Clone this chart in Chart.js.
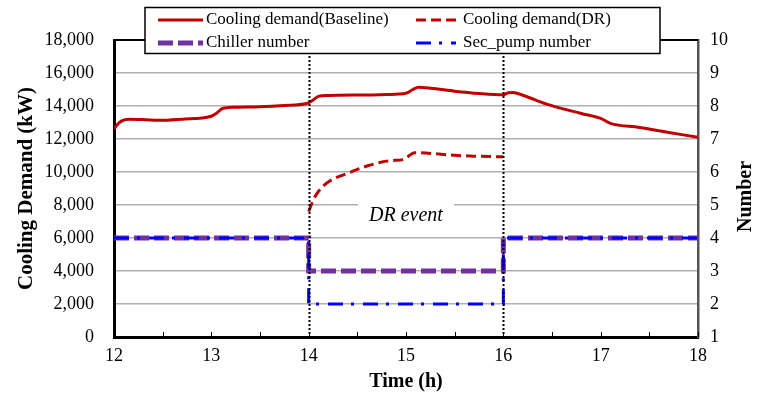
<!DOCTYPE html>
<html>
<head>
<meta charset="utf-8">
<script src="https://cdn.jsdelivr.net/npm/chart.js@4"></script>
<style>
  html, body { margin: 0; padding: 0; background: #fff; }
  #wrap { width: 758px; height: 394px; position: relative; }
</style>
</head>
<body>
<div id="wrap"><canvas id="chart"></canvas></div>
<script>
// baseline cooling demand (kW) against time (h)
const baseTime = [12.0, 12.03, 12.08, 12.16, 12.3, 12.47, 12.7, 13.0, 13.05, 13.12, 13.25, 13.5, 13.75, 13.98,
  14.03, 14.1, 14.2, 14.6, 14.8, 15.0, 15.07, 15.13, 15.25, 15.5, 15.75, 16.0, 16.05, 16.1, 16.2, 16.48,
  16.8, 17.0, 17.1, 17.4, 17.7, 18.0];
const baseLoad = [12600, 12850, 13100, 13200, 13180, 13130, 13200, 13380, 13550, 13860, 13930, 13960, 14030, 14150,
  14300, 14580, 14640, 14670, 14700, 14770, 15000, 15130, 15080, 14900, 14760, 14680, 14800, 14820, 14650, 14050,
  13550, 13250, 12950, 12700, 12400, 12100];

// cooling demand with demand response
const drTime = [14.0, 14.04, 14.08, 14.15, 14.22, 14.39, 14.6, 14.84, 14.97, 15.09, 15.2, 15.45, 15.7, 16.0];
const drLoad = [7600, 8200, 8650, 9150, 9470, 9900, 10360, 10690, 10750, 11170, 11150, 11030, 10960, 10920];

// equipment counts (right axis)
const stepTime = [12, 14, 16, 18];
const chillers = [4, 3, 4, 4];
const pumps = [4, 2, 4, 4];

const eventBounds = [14, 16];
const eventText = "DR event";

const xTicks = [12, 13, 14, 15, 16, 17, 18];

const serif = "'Liberation Serif', 'Times New Roman', serif";
Chart.defaults.font.family = serif;
Chart.defaults.color = "#000";

const pts = (xs, ys) => xs.map((x, i) => ({ x, y: ys[i] }));

const datasets = [
  {
    label: "Cooling demand(Baseline)",
    data: pts(baseTime, baseLoad),
    borderColor: "#c00000",
    borderWidth: 3,
    pointRadius: 0,
    cubicInterpolationMode: "monotone",
    yAxisID: "y",
    order: 2,
  },
  {
    label: "Cooling demand(DR)",
    data: pts(drTime, drLoad),
    borderColor: "#c00000",
    borderWidth: 3,
    borderDash: [10, 5],
    pointRadius: 0,
    cubicInterpolationMode: "monotone",
    yAxisID: "y",
    order: 2,
  },
  {
    label: "Chiller number",
    data: pts(stepTime, chillers),
    borderColor: "#7030a0",
    borderWidth: 5,
    borderDash: [15, 5],
    pointRadius: 0,
    stepped: "before",
    yAxisID: "y1",
    order: 4,
  },
  {
    label: "Sec_pump number",
    data: pts(stepTime, pumps),
    borderColor: "#0000ff",
    borderWidth: 3,
    borderDash: [15, 8, 3, 9],
    pointRadius: 0,
    stepped: "before",
    yAxisID: "y1",
    order: 3,
  },
];

const decorations = {
  id: "decorations",
  beforeDatasetsDraw(chart) {
    const { ctx, chartArea: a, scales } = chart;
    ctx.save();
    // top frame line (mostly hidden by legend)
    ctx.strokeStyle = "#000";
    ctx.lineWidth = 2;
    ctx.beginPath();
    ctx.moveTo(a.left, a.top);
    ctx.lineTo(a.right, a.top);
    ctx.stroke();

    // DR event label with white backing
    const cx = scales.x.getPixelForValue(15);
    const cy = scales.y.getPixelForValue(7350);
    ctx.fillStyle = "#fff";
    ctx.fillRect(cx - 48, cy - 14, 96, 28);
    ctx.fillStyle = "#000";
    ctx.font = "italic 20px " + serif;
    ctx.textAlign = "center";
    ctx.textBaseline = "middle";
    ctx.fillText(eventText, cx, cy);
    ctx.restore();
  },
  afterDatasetsDraw(chart) {
    const { ctx, chartArea: a, scales } = chart;
    ctx.save();
    // event boundaries
    ctx.strokeStyle = "#000";
    ctx.lineWidth = 2;
    ctx.setLineDash([2, 2]);
    eventBounds.forEach((t) => {
      const px = Math.round(scales.x.getPixelForValue(t)) + 0.5;
      ctx.beginPath();
      ctx.moveTo(px, a.top);
      ctx.lineTo(px, a.bottom);
      ctx.stroke();
    });
    ctx.setLineDash([]);

    // inner tick marks on the time axis
    ctx.lineWidth = 1;
    scales.x.ticks.forEach((tk) => {
      const px = Math.round(scales.x.getPixelForValue(tk.value)) + 0.5;
      ctx.beginPath();
      ctx.moveTo(px, a.bottom);
      ctx.lineTo(px, a.bottom - 5);
      ctx.stroke();
    });
    ctx.restore();
  },
  afterDraw(chart) {
    const { ctx, chartArea: a } = chart;
    ctx.save();
    // right axis title, reading upwards
    ctx.font = "bold 20px " + serif;
    ctx.fillStyle = "#000";
    ctx.textAlign = "center";
    ctx.textBaseline = "middle";
    ctx.translate(746, (a.top + a.bottom) / 2 + 8);
    ctx.rotate(-Math.PI / 2);
    ctx.fillText("Number", 0, 0);
    ctx.restore();

    // legend box, two columns
    ctx.save();
    const box = { x: 145, y: 7.5, w: 515, h: 46 };
    ctx.fillStyle = "#fff";
    ctx.fillRect(box.x, box.y, box.w, box.h);
    ctx.strokeStyle = "#000";
    ctx.lineWidth = 1.5;
    ctx.strokeRect(box.x, box.y, box.w, box.h);
    const cols = [{ x: 158, len: 45, tx: 206 }, { x: 416, len: 40, tx: 463 }];
    const rows = [20, 43];
    ctx.font = "17px " + serif;
    ctx.textBaseline = "middle";
    ctx.textAlign = "left";
    chart.data.datasets.forEach((ds, i) => {
      const c = cols[i % 2];
      const y = rows[Math.floor(i / 2)];
      ctx.strokeStyle = ds.borderColor;
      ctx.lineWidth = ds.borderWidth;
      ctx.setLineDash(ds.borderDash || []);
      ctx.beginPath();
      ctx.moveTo(c.x, y);
      ctx.lineTo(c.x + c.len, y);
      ctx.stroke();
      ctx.setLineDash([]);
      ctx.fillStyle = "#000";
      ctx.fillText(ds.label, c.tx, y);
    });
    ctx.restore();
  },
};

new Chart(document.getElementById("chart"), {
  type: "line",
  data: { datasets },
  options: {
    animation: false,
    responsive: true,
    maintainAspectRatio: false,
    layout: { padding: { top: 40, left: 0, right: 0, bottom: 0 } },
    plugins: {
      legend: { display: false },
      tooltip: { enabled: false },
    },
    scales: {
      x: {
        type: "linear",
        min: 12,
        max: 18,
        afterFit: (s) => { s.height = 57; },
        afterBuildTicks: (s) => {
          s.ticks = [];
          for (let v = 12; v <= 18; v += 0.5) s.ticks.push({ value: v });
        },
        ticks: {
          autoSkip: false,
          maxRotation: 0,
          padding: 8,
          font: { size: 18 },
          callback: (v) => (xTicks.includes(v) ? String(v) : ""),
        },
        grid: { drawOnChartArea: false, drawTicks: false },
        border: { color: "#000", width: 3 },
        title: {
          display: true,
          text: "Time (h)",
          font: { size: 20, weight: "bold" },
          padding: { top: 0, bottom: 0 },
        },
      },
      y: {
        position: "left",
        min: 0,
        max: 18000,
        afterFit: (s) => { s.width = 114; },
        ticks: {
          stepSize: 2000,
          padding: 20,
          font: { size: 18 },
          callback: (v) => v.toLocaleString("en-US"),
        },
        grid: { color: "#b0b0b0", lineWidth: 1.5, drawTicks: false },
        border: { color: "#000", width: 3 },
        title: {
          display: true,
          text: "Cooling Demand (kW)",
          font: { size: 21, weight: "bold" },
          padding: { top: 14, bottom: 0 },
        },
      },
      y1: {
        position: "right",
        min: 1,
        max: 10,
        afterFit: (s) => { s.width = 60; },
        ticks: { stepSize: 1, padding: 12, font: { size: 18 } },
        grid: { drawOnChartArea: false, drawTicks: false },
        border: { color: "#555", width: 2.5 },
      },
    },
  },
  plugins: [decorations],
});
</script>
</body>
</html>
